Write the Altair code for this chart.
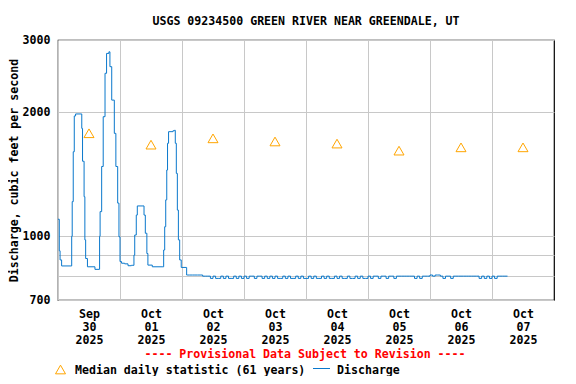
import altair as alt
import pandas as pd

FONT = "DejaVu Sans Mono"
FS = 11.6

# ---- Discharge (hours since 2025-09-30 00:00, cubic feet per second) ----
peak_hours = [0.0, 0.4, 0.5, 0.8, 1.4, 5.0, 5.3, 5.5, 5.9, 6.3, 6.8, 8.9, 9.2, 9.5,
              10.1, 10.4, 10.7, 11.4, 14.3, 16.0, 16.1, 16.3, 16.9, 17.5, 18.2, 18.8,
              19.7, 20.1, 20.8, 21.8, 22.4, 23.1, 23.6, 24.0, 24.6, 25.8, 27.1, 28.4,
              29.0, 29.4, 29.7, 30.3, 30.7, 32.9, 33.3, 33.8, 34.4, 34.8, 36.5, 40.6,
              40.9, 41.3, 41.7, 42.1, 42.4, 42.8, 44.5, 45.1, 45.4, 45.8, 46.2, 46.6,
              47.1, 47.7, 49.7, 49.8]
peak_cfs = [1100, 1100, 922, 876, 847, 847, 1000, 1214, 1605, 1961, 1983, 1983, 1829, 1522,
            1248, 980, 883, 843, 831, 831, 1000, 1148, 1478, 1953, 2490, 2783,
            2808, 2584, 2143, 1779, 1478, 1204, 997, 868, 860, 857, 848, 850,
            850, 900, 1007, 1126, 1185, 1185, 1126, 1017, 908, 851, 843, 843,
            926, 1055, 1226, 1449, 1683, 1796, 1805, 1810, 1683, 1422, 1158, 980,
            876, 840, 840, 805]
# hourly values from hour 50 onward
flat_start_hour = 50
flat_cfs = [805, 805, 805, 805, 805, 805,
            800, 800, 800,
            790, 800, 790, 790, 800, 790, 800, 790, 790, 800, 790, 800, 790,
            800, 790, 800, 800, 790, 800, 800, 790, 800, 790, 800,
            790, 800, 790, 790, 800, 790, 800, 790, 790, 800, 790, 800, 790, 790, 800, 790,
            800, 790, 790, 800, 790, 800, 790, 790, 800, 790, 800, 790, 790, 800, 790,
            790, 800, 790, 800, 790, 790, 800, 790, 800, 800, 790, 800, 800, 790, 800, 800, 790,
            800, 800, 800, 800, 800, 800, 800,
            790, 800, 790, 800,
            800, 800,
            805, 800, 805, 805, 800, 790, 800, 800, 790, 800, 800,
            800, 800, 800, 800, 800, 800, 800, 800,
            790, 800, 790, 800, 790, 800, 790, 800,
            800, 800, 800, 800]

# ---- Median daily statistic (61 years) ----
median_days = ["2025-09-30", "2025-10-01", "2025-10-02", "2025-10-03",
               "2025-10-04", "2025-10-05", "2025-10-06", "2025-10-07"]
median_cfs = [1780, 1670, 1730, 1700, 1680, 1615, 1645, 1645]

tick_days = median_days
y_ticks = [700, 800, 900, 1000, 2000, 3000]
y_labels = [700, 1000, 2000, 3000]

start = pd.Timestamp("2025-09-30 00:00")
hours = peak_hours + [flat_start_hour + i for i in range(len(flat_cfs))]
flow = pd.DataFrame({"time": start + pd.to_timedelta(hours, unit="h"),
                     "cfs": peak_cfs + flat_cfs})
med = pd.DataFrame({"time": pd.to_datetime(median_days) + pd.Timedelta(hours=12),
                    "cfs": median_cfs})


def dt(s):
    d = pd.Timestamp(s)
    return alt.DateTime(year=d.year, month=d.month, date=d.day)


x_enc = alt.X("time:T",
              scale=alt.Scale(domain=[dt("2025-09-30"), dt("2025-10-08")]),
              axis=alt.Axis(values=[dt(d) for d in tick_days],
                            labelExpr="[timeFormat(datum.value, '%b'), timeFormat(datum.value, '%d'), timeFormat(datum.value, '%Y')]",
                            labelOffset=31, labelFlush=False, labelOverlap=False,
                            labelAlign="center", labelBaseline="top", labelPadding=8,
                            labelLineHeight=13,
                            labelFont=FONT, labelFontSize=FS, labelFontWeight="bold",
                            labelColor="black",
                            ticks=False, domain=False, grid=True,
                            gridColor="#c8c8c8", gridWidth=1, title=None))

y_label_test = " || ".join(f"datum.value == {v}" for v in y_labels)
y_enc = alt.Y("cfs:Q",
              scale=alt.Scale(type="log", domain=[700, 3000], nice=False),
              axis=alt.Axis(values=y_ticks,
                            labelExpr=f"({y_label_test}) ? format(datum.value, 'd') : ''",
                            labelFont=FONT, labelFontSize=FS, labelFontWeight="bold",
                            labelColor="black", labelPadding=8, labelOverlap=False,
                            labelFlush=False,
                            ticks=False, domain=False, grid=True,
                            gridColor="#c8c8c8", gridWidth=1,
                            title="Discharge, cubic feet per second",
                            titleFont=FONT, titleFontSize=FS, titleFontWeight="bold",
                            titleColor="black", titleX=-41, titleY=130,
                            titleAngle=270, titleAlign="center",
                            titleBaseline="alphabetic"))

line = alt.Chart(flow).mark_line(color="#0a78cc", strokeWidth=1,
                                 interpolate="step-after").encode(x=x_enc, y=y_enc)

medians = alt.Chart(med).mark_point(shape="triangle-up", filled=False,
                                    color="#ffa500", size=100, strokeWidth=1,
                                    opacity=1).encode(x=x_enc, y=y_enc)

footer = pd.DataFrame({"label": ["---- Provisional Data Subject to Revision ----"]})
prov = alt.Chart(footer).mark_text(font=FONT, fontSize=FS, fontWeight="bold",
                                   color="#ff0000", align="center",
                                   baseline="middle").encode(
    x=alt.value(247), y=alt.value(315), text="label:N")

leg_med = pd.DataFrame({"label": ["Median daily statistic (61 years)"]})
leg_q = pd.DataFrame({"label": ["Discharge"]})

leg_tri = alt.Chart(leg_med).mark_point(shape="triangle-up", filled=False,
                                        color="#ffa500", size=100, strokeWidth=1,
                                        opacity=1).encode(
    x=alt.value(2.5), y=alt.value(329.5))
leg_tri_txt = alt.Chart(leg_med).mark_text(font=FONT, fontSize=FS, fontWeight="bold",
                                           color="black", align="left",
                                           baseline="alphabetic").encode(
    x=alt.value(17), y=alt.value(333.5), text="label:N")
leg_line = alt.Chart(leg_q).mark_rule(color="#0a78cc", strokeWidth=1).encode(
    x=alt.value(255), x2=alt.value(272), y=alt.value(328.5))
leg_q_txt = alt.Chart(leg_q).mark_text(font=FONT, fontSize=FS, fontWeight="bold",
                                       color="black", align="left",
                                       baseline="alphabetic").encode(
    x=alt.value(279), y=alt.value(333.5), text="label:N")

chart = alt.layer(line, medians, prov, leg_tri, leg_tri_txt, leg_line, leg_q_txt).properties(
    width=496, height=260,
    padding={"left": 50, "top": 32, "right": 14, "bottom": 76},
    autosize=alt.AutoSizeParams(type="none"),
    title=alt.TitleParams("USGS 09234500 GREEN RIVER NEAR GREENDALE, UT",
                          font=FONT, fontSize=FS, fontWeight="bold", color="black",
                          anchor="middle", offset=6),
    background="white",
).configure_view(stroke="black", strokeWidth=1.2)

chart.save("out.html", embed_options={"renderer": "svg", "actions": False})
